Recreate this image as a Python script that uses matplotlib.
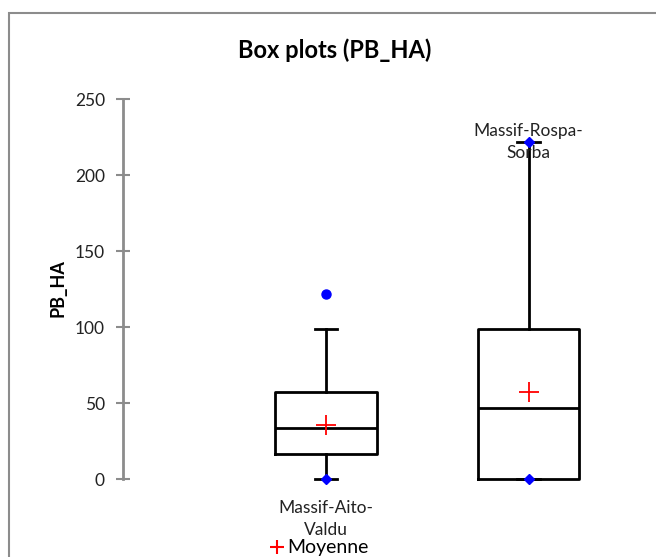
import matplotlib
matplotlib.use("Agg")
import matplotlib.pyplot as plt
from matplotlib.lines import Line2D
from matplotlib.patches import Rectangle

#----- Data -----#

groups = ["Massif-Aito-\nValdu", "Massif-Rospa-\nSorba"]
q1 = [16.5, 0.0]
med = [33.5, 46.5]
q3 = [57.0, 99.0]
whislo = [0.0, 0.0]
whishi = [98.5, 221.5]
means = [35.5, 57.0]
outliers = [[122.0], []]
mins = [0.0, 0.0]
maxs = [None, 221.5]

yticks = [0, 50, 100, 150, 200, 250]

#----- Style -----#

plt.rcParams['font.family'] = ['Lato', 'DejaVu Sans']
grey = "#8c8c8c"

fig = plt.figure(figsize=(6.56, 5.57), dpi=100)
ax = fig.add_axes([123 / 656, 78 / 557, 507 / 656, 380 / 557])

stats = []
for i in range(len(groups)):
    stats.append({
        "q1": q1[i], "med": med[i], "q3": q3[i],
        "whislo": whislo[i], "whishi": whishi[i],
        "mean": means[i], "fliers": outliers[i], "label": "",
    })

pos = [1, 2]
art = ax.bxp(
    stats, positions=pos, widths=0.5, capwidths=0.11,
    showmeans=True, meanline=False,
    boxprops=dict(color="black", linewidth=2),
    medianprops=dict(color="black", linewidth=2),
    whiskerprops=dict(color="black", linewidth=2),
    capprops=dict(color="black", linewidth=2),
    meanprops=dict(marker="+", markeredgecolor="red", markersize=14,
                   markeredgewidth=1.3, linestyle="none"),
    flierprops=dict(marker="o", markerfacecolor="blue", markeredgecolor="blue",
                    markersize=6.5),
)
for key in art:
    for a in art[key]:
        a.set_clip_on(False)

# min / max markers
for i, p in enumerate(pos):
    ax.plot(p, mins[i], marker="D", color="blue", markersize=5.5, clip_on=False, zorder=5)
    if maxs[i] is not None:
        ax.plot(p, maxs[i], marker="D", color="blue", markersize=5.5, clip_on=False, zorder=5)

# category labels (XLSTAT style: first under min, second centred on max)
ax.annotate(groups[0], xy=(pos[0], mins[0]), xytext=(0, -15), textcoords="offset points",
            ha="center", va="top", fontsize=12.5, color="#222222", linespacing=1.45,
            annotation_clip=False)
ax.annotate(groups[1], xy=(pos[1], maxs[1]), xytext=(0, 0), textcoords="offset points",
            ha="center", va="center", fontsize=12.5, color="#222222", linespacing=1.45,
            annotation_clip=False)

ax.set_xlim(0, 2.5)
ax.set_ylim(0, 250)
ax.set_yticks(yticks)
ax.set_xticks([])
for s in ["top", "right", "bottom"]:
    ax.spines[s].set_visible(False)
ax.spines["left"].set_color(grey)
ax.spines["left"].set_linewidth(2)
ax.tick_params(axis="y", direction="inout", length=10, width=1.5, color=grey,
               labelsize=12.5, pad=8, labelcolor="#222222")

# chart frame, title, axis title, legend
fig.patches.append(Rectangle((9 / 656, -0.2), 1.0, 1.2 - 13 / 557, transform=fig.transFigure,
                             fill=False, edgecolor=grey, linewidth=1.5))
fig.text(335 / 656, 1 - 50 / 557, "Box plots (PB_HA)", ha="center", va="center",
         fontsize=17, fontweight="bold")
fig.text(58 / 656, 1 - 288 / 557, "PB_HA", ha="center", va="center", rotation=90,
         fontsize=13, fontweight="bold")

handle = Line2D([], [], marker="+", color="red", linestyle="none", markersize=10,
                markeredgewidth=1.5)
fig.legend([handle], ["Moyenne"], loc="center", bbox_to_anchor=(320 / 656, 9 / 557),
           frameon=False, fontsize=14, handlelength=0.6, handletextpad=0.2,
           borderpad=0, borderaxespad=0)

fig.savefig("out.png", dpi=100)
